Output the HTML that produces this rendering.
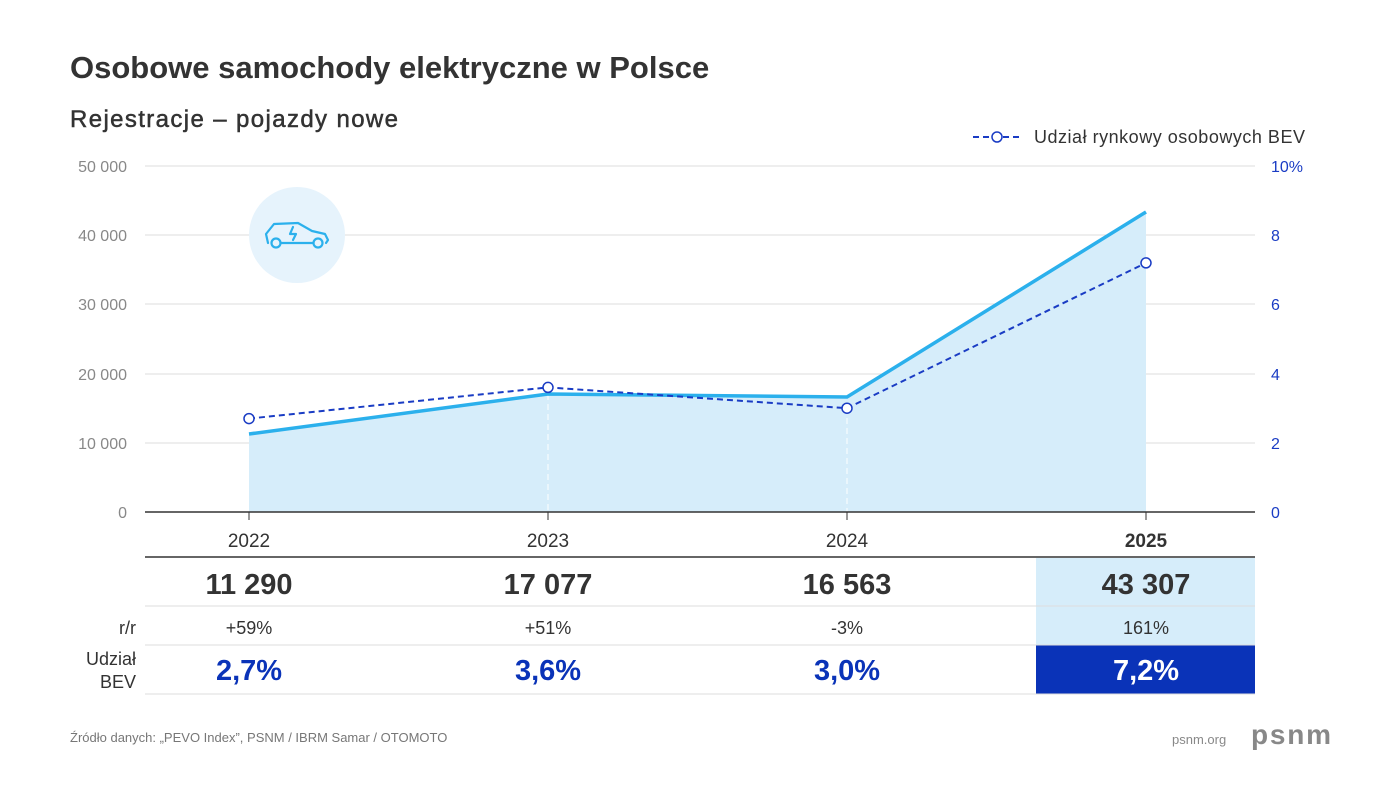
<!DOCTYPE html>
<html><head><meta charset="utf-8"><style>
body{margin:0;background:#fff}
svg{display:block;font-family:"Liberation Sans",sans-serif}
</style></head><body>
<svg width="1400" height="787" viewBox="0 0 1400 787">
<text x="70" y="78" font-size="31" font-weight="bold" fill="#333">Osobowe samochody elektryczne w Polsce</text>
<text x="70" y="127" font-size="24" fill="#333" stroke="#333" stroke-width="0.5" textLength="328">Rejestracje – pojazdy nowe</text>
<line x1="973" y1="137" x2="1022" y2="137" stroke="#1a3cc4" stroke-width="2" stroke-dasharray="6,4"/>
<circle cx="997" cy="137" r="5" fill="#fff" stroke="#1a3cc4" stroke-width="1.5"/>
<text x="1034" y="143" font-size="18" fill="#333" textLength="271">Udział rynkowy osobowych BEV</text>
<g stroke="#ddd" stroke-width="1">
<line x1="145" y1="166" x2="1255" y2="166"/><line x1="145" y1="235" x2="1255" y2="235"/>
<line x1="145" y1="304" x2="1255" y2="304"/><line x1="145" y1="374" x2="1255" y2="374"/>
<line x1="145" y1="443" x2="1255" y2="443"/></g>
<g font-size="16" fill="#888" text-anchor="end">
<text x="127" y="172">50 000</text><text x="127" y="241">40 000</text><text x="127" y="310">30 000</text>
<text x="127" y="380">20 000</text><text x="127" y="449">10 000</text><text x="127" y="518">0</text></g>
<g font-size="16" fill="#1a3cc4" text-anchor="start">
<text x="1271" y="172">10%</text><text x="1271" y="241">8</text><text x="1271" y="310">6</text>
<text x="1271" y="380">4</text><text x="1271" y="449">2</text><text x="1271" y="518">0</text></g>
<circle cx="297" cy="235" r="48" fill="#e6f3fc"/>
<g fill="none" stroke="#2bb0ec" stroke-width="2.2" stroke-linecap="round" stroke-linejoin="round">
<path d="M268 243 L266 234 L274 224 L298 223 L312 231 L325 234 L328 240 L326 243"/>
<circle cx="276" cy="243" r="4.5"/><circle cx="318" cy="243" r="4.5"/>
<line x1="281" y1="243" x2="313" y2="243"/>
<path d="M293 227 L290 234 L296 234 L293 240"/></g>
<path d="M249 434 L548 394 L847 397 L1146 212 L1146 512 L249 512Z" fill="#d6edfa"/>
<g stroke="#fff" stroke-dasharray="6,4" stroke-width="1"><line x1="548" y1="394" x2="548" y2="512"/><line x1="847" y1="408" x2="847" y2="512"/></g>
<polyline points="249,434 548,394 847,397 1146,212" fill="none" stroke="#2bb0ec" stroke-width="3.5"/>
<polyline points="249,418.6 548,387.4 847,408.2 1146,262.9" fill="none" stroke="#1a3cc4" stroke-width="2" stroke-dasharray="6,4"/>
<g fill="#fff" stroke="#1a3cc4" stroke-width="1.5"><circle cx="249" cy="418.6" r="5"/><circle cx="548" cy="387.4" r="5"/><circle cx="847" cy="408.2" r="5"/><circle cx="1146" cy="262.9" r="5"/></g>
<line x1="145" y1="512" x2="1255" y2="512" stroke="#333" stroke-width="1.5"/>
<g stroke="#333"><line x1="249" y1="512" x2="249" y2="520"/><line x1="548" y1="512" x2="548" y2="520"/><line x1="847" y1="512" x2="847" y2="520"/><line x1="1146" y1="512" x2="1146" y2="520"/></g>
<g font-size="19" fill="#333" text-anchor="middle">
<text x="249" y="547">2022</text><text x="548" y="547">2023</text><text x="847" y="547">2024</text><text x="1146" y="547" font-weight="bold">2025</text></g>
<rect x="1036" y="558" width="219" height="87" fill="#d6edfa"/>
<rect x="1036" y="645" width="219" height="49" fill="#0a33b8"/>
<line x1="145" y1="557" x2="1255" y2="557" stroke="#333" stroke-width="1.5"/>
<g stroke="#ddd"><line x1="145" y1="606" x2="1255" y2="606"/><line x1="145" y1="645" x2="1255" y2="645"/><line x1="145" y1="694" x2="1255" y2="694"/></g>
<g font-size="29" font-weight="bold" fill="#333" text-anchor="middle">
<text x="249" y="594">11 290</text><text x="548" y="594">17 077</text><text x="847" y="594">16 563</text><text x="1146" y="594">43 307</text></g>
<text x="136" y="634" font-size="18" fill="#333" text-anchor="end">r/r</text>
<g font-size="18" fill="#333" text-anchor="middle">
<text x="249" y="634">+59%</text><text x="548" y="634">+51%</text><text x="847" y="634">-3%</text><text x="1146" y="634">161%</text></g>
<text x="136" y="665" font-size="18" fill="#333" text-anchor="end">Udział</text>
<text x="136" y="688" font-size="18" fill="#333" text-anchor="end">BEV</text>
<g font-size="29" font-weight="bold" text-anchor="middle">
<text x="249" y="680" fill="#0a33b8">2,7%</text><text x="548" y="680" fill="#0a33b8">3,6%</text><text x="847" y="680" fill="#0a33b8">3,0%</text><text x="1146" y="680" fill="#fff">7,2%</text></g>
<text x="70" y="742" font-size="13" fill="#777">Źródło danych: „PEVO Index”, PSNM / IBRM Samar / OTOMOTO</text>
<text x="1172" y="744" font-size="13" fill="#888">psnm.org</text>
<text x="1251" y="744" font-size="28" font-weight="bold" fill="#888" textLength="80">psnm</text>
</svg>
</body></html>
